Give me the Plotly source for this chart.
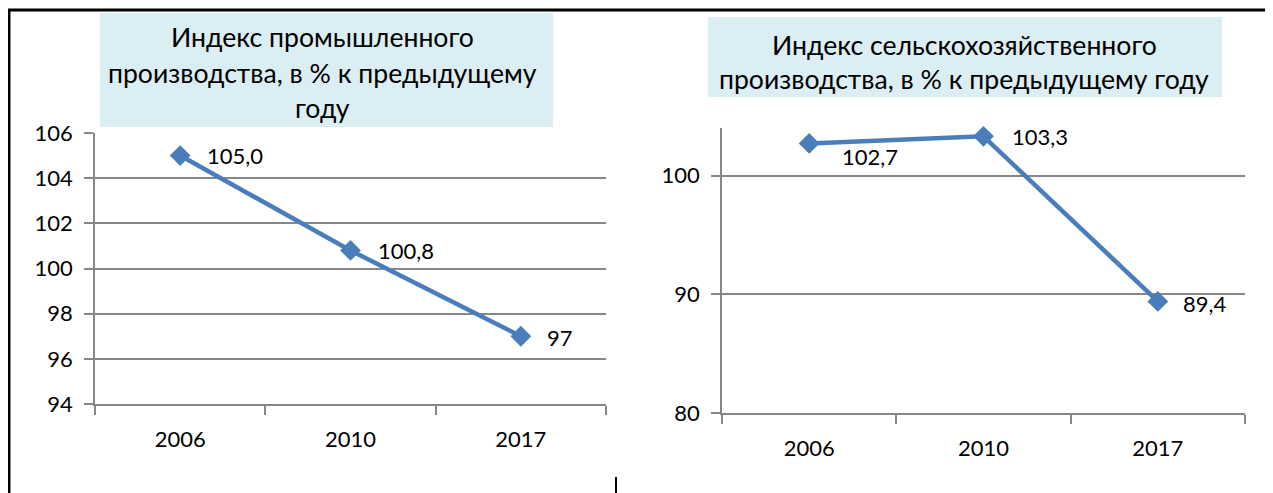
import plotly.graph_objects as go

W, H = 1273, 493

years = ["2006", "2010", "2017"]
industry = [105.0, 100.8, 97.0]
industry_labels = ["105,0", "100,8", "97"]
agri = [102.7, 103.3, 89.4]
agri_labels = ["102,7", "103,3", "89,4"]

title_left = ["Индекс промышленного", "производства, в % к предыдущему", "году"]
title_right = ["Индекс сельскохозяйственного", "производства, в % к предыдущему году"]

FONT = "Lato"
LINE = "#4A7EBB"
GRID = "#878787"
TICK_SIZE = 22
TITLE_SIZE = 26.6
OFF = 8  # page offset of the figure (body margin)

def px_x(x):
    return (x - OFF) / W

def px_y(y):
    return (H - (y - OFF)) / H

fig = go.Figure()

fig.add_trace(go.Scatter(
    x=years, y=industry, mode="lines+markers",
    line=dict(color=LINE, width=4.5),
    marker=dict(symbol="diamond", size=16, color=LINE),
    xaxis="x", yaxis="y", showlegend=False, cliponaxis=False,
))
fig.add_trace(go.Scatter(
    x=years, y=agri, mode="lines+markers",
    line=dict(color=LINE, width=4.5),
    marker=dict(symbol="diamond", size=16, color=LINE),
    xaxis="x2", yaxis="y2", showlegend=False, cliponaxis=False,
))

common_x = dict(
    type="category", tickson="boundaries", ticks="outside", ticklen=9,
    tickcolor=GRID, tickwidth=1.5, showline=True, linecolor=GRID, linewidth=1.5,
    showgrid=False, zeroline=False, ticklabelstandoff=15, automargin=False,
    tickfont=dict(family=FONT, size=TICK_SIZE, color="#000000"), fixedrange=True,
)
common_y = dict(
    ticks="outside", ticklen=9, tickcolor=GRID, tickwidth=1.5,
    showline=True, linecolor=GRID, linewidth=1.5,
    showgrid=True, gridcolor=GRID, gridwidth=1.5, zeroline=False,
    ticklabelstandoff=7, automargin=False,
    tickfont=dict(family=FONT, size=TICK_SIZE, color="#000000"), fixedrange=True,
)

fig.update_layout(
    width=W, height=H, autosize=False,
    margin=dict(l=0, r=0, t=0, b=0, pad=0, autoexpand=False),
    paper_bgcolor="white", plot_bgcolor="white",
    xaxis=dict(domain=[px_x(95), px_x(606)], anchor="y", range=[-0.5, 2.5], **common_x),
    yaxis=dict(domain=[px_y(404), px_y(133)], anchor="x", range=[94, 106], dtick=2, **common_y),
    xaxis2=dict(domain=[px_x(722), px_x(1245)], anchor="y2", range=[-0.5, 2.5], **common_x),
    yaxis2=dict(domain=[px_y(413), px_y(128)], anchor="x2", range=[80, 104],
                tickvals=[80, 90, 100], **common_y),
)

shapes = [
    dict(type="rect", xref="paper", yref="paper", x0=px_x(100), x1=px_x(553),
         y0=px_y(127), y1=px_y(13), fillcolor="#DBEEF3", line=dict(width=0), layer="below"),
    dict(type="rect", xref="paper", yref="paper", x0=px_x(708), x1=px_x(1222),
         y0=px_y(97), y1=px_y(17), fillcolor="#DBEEF3", line=dict(width=0), layer="below"),
    dict(type="line", xref="paper", yref="paper", x0=0, x1=1, y0=px_y(10), y1=px_y(10),
         line=dict(color="black", width=3)),
    dict(type="line", xref="paper", yref="paper", x0=1.2 / W, x1=1.2 / W, y0=px_y(10.5), y1=0,
         line=dict(color="black", width=2.5)),
    dict(type="line", xref="paper", yref="paper", x0=px_x(616), x1=px_x(616), y0=px_y(477), y1=0,
         line=dict(color="black", width=2)),
]
fig.update_layout(shapes=shapes)

annotations = []
for txt, y in zip(title_left, [37, 73, 108]):
    annotations.append(dict(text=txt, xref="paper", yref="paper", x=px_x(322), y=px_y(y),
                            xanchor="center", yanchor="middle", showarrow=False,
                            font=dict(family=FONT, size=TITLE_SIZE, color="#000000")))
for txt, y in zip(title_right, [45, 79]):
    annotations.append(dict(text=txt, xref="paper", yref="paper", x=px_x(964), y=px_y(y),
                            xanchor="center", yanchor="middle", showarrow=False,
                            font=dict(family=FONT, size=TITLE_SIZE, color="#000000")))

# data labels (category axes take the category index as position)
left_shifts = [(25, 0), (25, 0), (24, -1)]
right_shifts = [(31, -13), (26, 0), (23, -2)]
for i, (yv, lab, (dx, dy)) in enumerate(zip(industry, industry_labels, left_shifts)):
    annotations.append(dict(text=lab, xref="x", yref="y", x=i, y=yv, xanchor="left",
                            yanchor="middle", xshift=dx, yshift=dy, showarrow=False,
                            font=dict(family=FONT, size=TICK_SIZE, color="#000000")))
for i, (yv, lab, (dx, dy)) in enumerate(zip(agri, agri_labels, right_shifts)):
    annotations.append(dict(text=lab, xref="x2", yref="y2", x=i, y=yv, xanchor="left",
                            yanchor="middle", xshift=dx, yshift=dy, showarrow=False,
                            font=dict(family=FONT, size=TICK_SIZE, color="#000000")))
fig.update_layout(annotations=annotations)

fig.write_html("out.html")
